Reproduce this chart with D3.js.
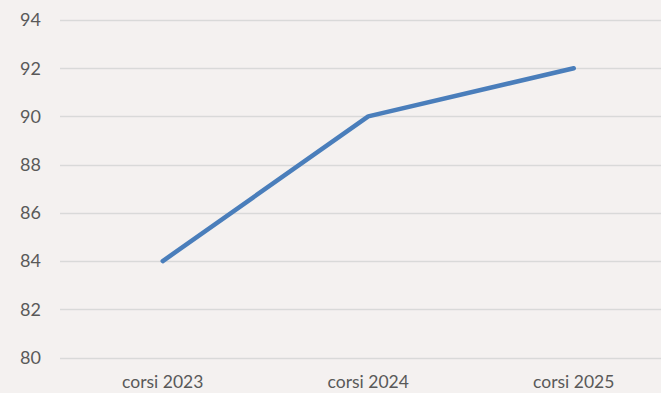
<!DOCTYPE html>
<html><head><meta charset="utf-8">
<script src="https://cdn.jsdelivr.net/npm/d3@7"></script>
<style>html,body{margin:0;padding:0;background:#f4f1f0;overflow:hidden}</style>
</head><body>
<svg id="c" width="661" height="393"></svg>
<script>
const categories = ["corsi 2023", "corsi 2024", "corsi 2025"];
const values = [84, 90, 92];
const yTicks = [80, 82, 84, 86, 88, 90, 92, 94];

const svg = d3.select("#c");
const W = 661, H = 393;
svg.append("rect").attr("width", W).attr("height", H).attr("fill", "#f4f1f0");

const x = d3.scaleBand().domain(categories).range([60, 676.5]);
const y = d3.scaleLinear().domain([80, 94]).range([357.5, 20]);

const font = "Lato, 'Open Sans', sans-serif";

const grid = svg.append("g");
grid.selectAll("line").data(yTicks).join("line")
  .attr("x1", 60).attr("x2", W)
  .attr("y1", d => Math.round(y(d)) + 0.5).attr("y2", d => Math.round(y(d)) + 0.5)
  .attr("stroke", "#d9d9d9").attr("stroke-width", 1.3);

svg.append("g").selectAll("text").data(yTicks).join("text")
  .attr("x", 41).attr("y", d => y(d)).attr("dy", "0.35em")
  .attr("text-anchor", "end").attr("fill", "#595959")
  .attr("font-family", font).attr("font-size", 18)
  .text(d => d);

svg.append("g").selectAll("text").data(categories).join("text")
  .attr("x", d => x(d) + x.bandwidth() / 2).attr("y", 388)
  .attr("text-anchor", "middle").attr("fill", "#595959")
  .attr("font-family", font).attr("font-size", 17.5)
  .text(d => d);

const line = d3.line()
  .x((d, i) => x(categories[i]) + x.bandwidth() / 2)
  .y(d => y(d));

svg.append("path").datum(values)
  .attr("d", line).attr("fill", "none")
  .attr("stroke", "#4a7ebb").attr("stroke-width", 4.5)
  .attr("stroke-linecap", "round").attr("stroke-linejoin", "round");
</script>
</body></html>
